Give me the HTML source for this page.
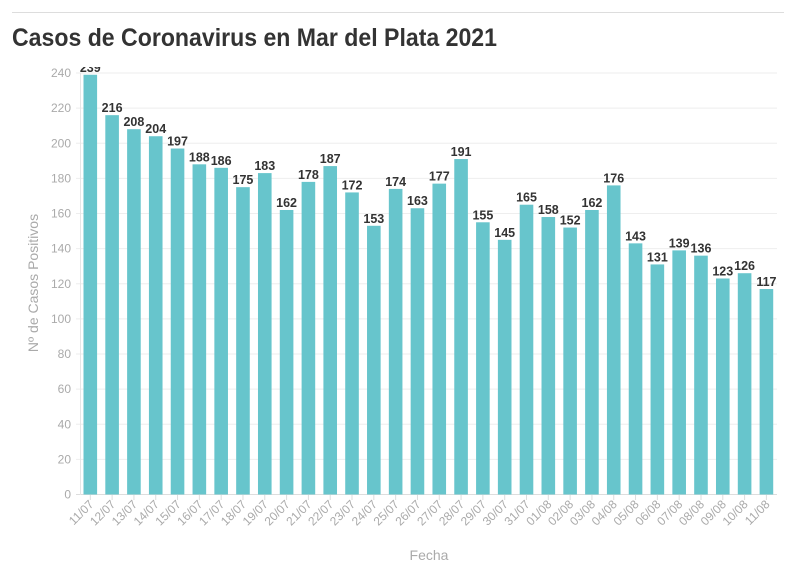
<!DOCTYPE html>
<html><head><meta charset="utf-8"><style>
body{margin:0;background:#fff;width:796px;height:575px;overflow:hidden;font-family:"Liberation Sans",sans-serif}
</style></head><body>
<svg id="s" width="796" height="575" xmlns="http://www.w3.org/2000/svg">
<line x1="12" y1="12.5" x2="784" y2="12.5" stroke="#ddd" stroke-width="1"/>
<text x="12" y="46" font-size="25" font-weight="bold" fill="#333" textLength="485" lengthAdjust="spacingAndGlyphs" font-family="Liberation Sans, sans-serif">Casos de Coronavirus en Mar del Plata 2021</text>
<text transform="translate(38,283) rotate(-90)" text-anchor="middle" font-size="14" fill="#aaa">Nº de Casos Positivos</text>
<text x="429" y="560" text-anchor="middle" font-size="14" fill="#aaa">Fecha</text>
<defs><clipPath id="c"><rect x="0" y="67" width="796" height="500"/></clipPath></defs>
<g id="g"></g>
</svg>
<script>
const v=[239,216,208,204,197,188,186,175,183,162,178,187,172,153,174,163,177,191,155,145,165,158,152,162,176,143,131,139,136,123,126,117];
const d=["11/07","12/07","13/07","14/07","15/07","16/07","17/07","18/07","19/07","20/07","21/07","22/07","23/07","24/07","25/07","26/07","27/07","28/07","29/07","30/07","31/07","01/08","02/08","03/08","04/08","05/08","06/08","07/08","08/08","09/08","10/08","11/08"];
const y0=494.5,k=421.5/240;let h="";
for(let t=0;t<=240;t+=20){const y=y0-t*k;
h+=`<line x1="76" x2="777" y1="${y}" y2="${y}" stroke="${t?'#eee':'#ddd'}"/>`;
h+=`<text x="71" y="${y+4}" text-anchor="end" font-size="12" fill="#aaa">${t}</text>`;}
h+=`<line x1="80.5" x2="80.5" y1="73" y2="495" stroke="#e6e6e6"/>`;
h+='<g clip-path="url(#c)">';
v.forEach((a,i)=>{const cx=90.3+i*21.81,y=y0-a*k;
h+=`<rect x="${cx-6.8}" y="${y}" width="13.6" height="${y0-y}" fill="#67c5cc"/>`;
h+=`<text x="${cx}" y="${y-3}" text-anchor="middle" font-size="12.5" font-weight="bold" fill="#333">${a}</text>`;
h+=`<line x1="${cx}" x2="${cx}" y1="495" y2="500" stroke="#ddd"/>`;
h+=`<text transform="translate(${cx+4},${505}) rotate(-45)" text-anchor="end" font-size="12" fill="#aaa">${d[i]}</text>`;});
h+='</g>';
document.getElementById('g').innerHTML=h;
</script>
</body></html>
